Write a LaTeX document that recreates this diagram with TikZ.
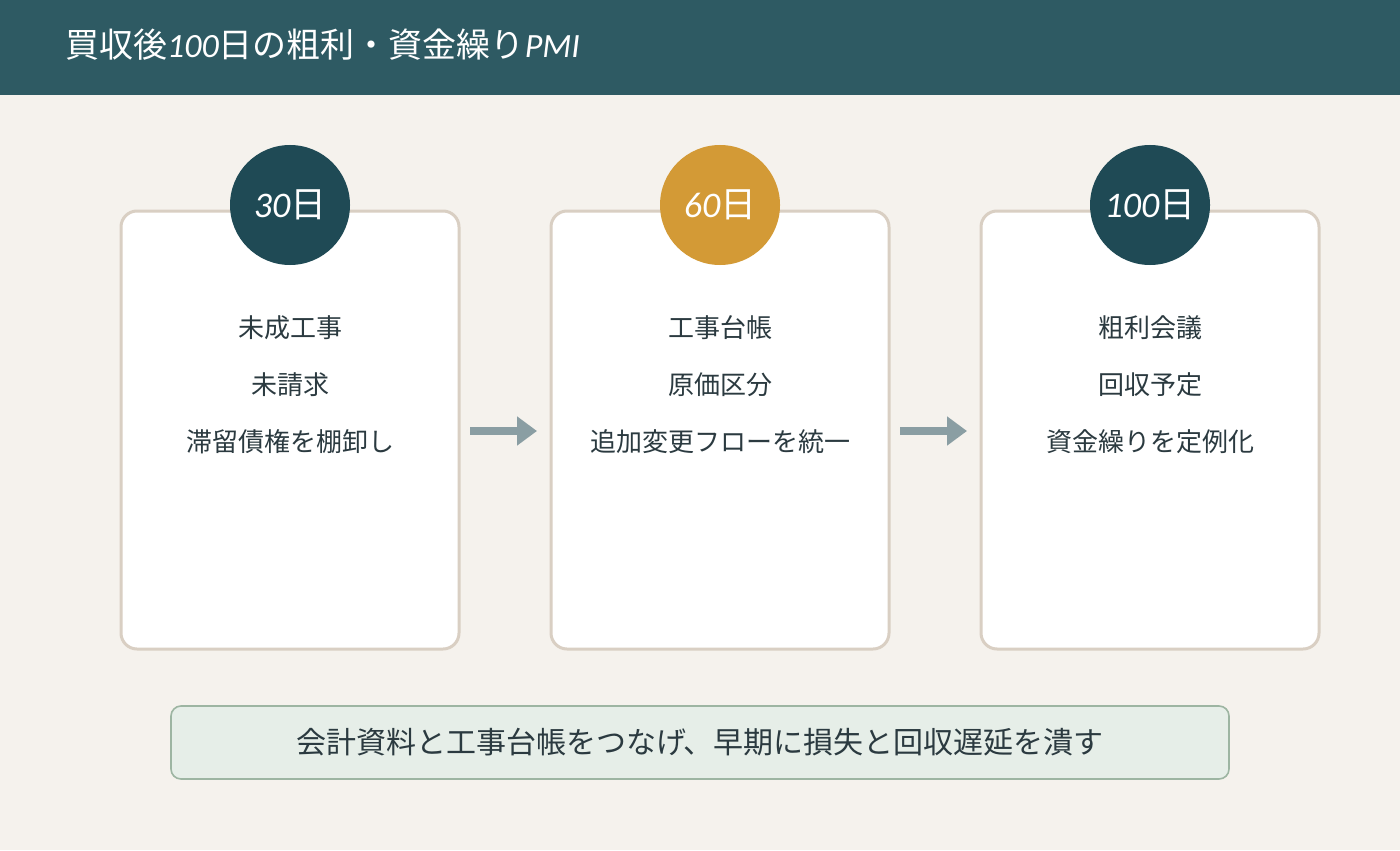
\documentclass[tikz,border=0pt]{standalone}
\usepackage{fontspec}
\setmainfont{Noto Sans CJK JP}
\newfontfamily\lat{Carlito}
\usetikzlibrary{arrows.meta}
\definecolor{bg}{HTML}{F5F2ED}
\definecolor{hdr}{HTML}{2E5A63}
\definecolor{dk}{HTML}{1F4A55}
\definecolor{gold}{HTML}{D39A36}
\definecolor{cardb}{HTML}{D9CFC3}
\definecolor{txt}{HTML}{2B3A40}
\definecolor{arr}{HTML}{8A9EA3}
\definecolor{nfill}{HTML}{E6EEE8}
\definecolor{nbord}{HTML}{9DB5A2}
\tikzset{
 card/.style={draw=cardb,line width=1.5pt,fill=white,rounded corners=8pt,minimum width=169pt,minimum height=219pt,inner sep=0pt},
 badge/.style={circle,minimum size=60pt,inner sep=0pt,text=white,font=\fontsize{18}{20}\selectfont},
 item/.style={text=txt,font=\fontsize{13}{15}\selectfont},
 flow/.style={arr,line width=4pt,-{Triangle[length=10pt,width=14pt]}}
}
\begin{document}
\begin{tikzpicture}[x=0.5pt,y=-0.5pt]
\useasboundingbox (0,0) rectangle (1400,850);
\fill[bg] (0,0) rectangle (1400,850);
\fill[hdr] (0,0) rectangle (1400,95);
\node[anchor=west,text=white,font=\fontsize{17}{20}\selectfont] (title) at (58,45) {買収後{\lat\itshape 100}日の粗利・資金繰り{\lat\itshape PMI}};
\foreach \n/\cx/\col/\lab/\a/\b/\c in {1/290/dk/30/未成工事/未請求/滞留債権を棚卸し,2/720/gold/60/工事台帳/原価区分/追加変更フローを統一,3/1150/dk/100/粗利会議/回収予定/資金繰りを定例化}{
 \node[card] (c\n) at (\cx,430) {};
 \node[badge,fill=\col] (b\n) at (\cx,205) {{\lat\itshape \lab}日};
 \node[item] (i\n a) at (\cx,328) {\a};
 \node[item] (i\n b) at (\cx,385) {\b};
 \node[item] (i\n c) at (\cx,442) {\c};
}
\coordinate (a1s) at (470,431); \coordinate (a1e) at (537,431);
\coordinate (a2s) at (900,431); \coordinate (a2e) at (967,431);
\draw[flow] (a1s) -- (a1e);
\draw[flow] (a2s) -- (a2e);
\node[draw=nbord,line width=0.8pt,fill=nfill,rounded corners=5pt,minimum width=529pt,minimum height=36.5pt,text=txt,font=\fontsize{15}{18}\selectfont] (note) at (700,742.5) {会計資料と工事台帳をつなげ、早期に損失と回収遅延を潰す};
\end{tikzpicture}
\end{document}
